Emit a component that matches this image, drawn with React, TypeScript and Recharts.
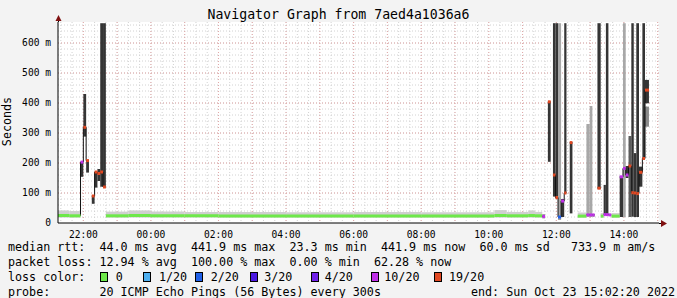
import React from 'react';
import { ComposedChart, Area, Line, XAxis, YAxis, CartesianGrid } from 'recharts';

const FONT = "'DejaVu Sans Mono', monospace";

// time axis in minutes relative to Oct 23 00:00
const startMin = -165;
const endMin = 902.33;
const xLabelMinutes = [-120, 0, 120, 240, 360, 480, 600, 720, 840];
const yTicks = [0, 100, 200, 300, 400, 500, 600];

const lossColors = ['#6ee84a', '#4fb0f0', '#2060e8', '#4a18e0', '#7020e8', '#c030e8', '#e04822'];
const lossLabels = ['0', '1/20', '2/20', '3/20', '4/20', '10/20', '19/20'];
const shades: Record<string, string> = { d: '#353535', m: '#5c5c5c', l: '#a8a8a8' };

// quiet periods: [start, end, smokeLo, smokeHi, median]
const baseline: [number, number, number, number, number][] = [
  [-165, -145, 18, 42, 25],
  [-145, -125, 18, 40, 24],
  [-80, -40, 18, 38, 24],
  [-40, 0, 18, 42, 25],
  [0, 60, 18, 38, 24],
  [60, 120, 18, 37, 24],
  [120, 240, 18, 37, 23],
  [240, 360, 18, 36, 23],
  [360, 480, 18, 37, 23],
  [480, 610, 18, 36, 23],
  [610, 632, 18, 43, 25],
  [632, 670, 18, 37, 24],
  [670, 682, 18, 42, 25],
  [682, 695, 18, 37, 24],
  [758, 773.4, 18, 35, 23],
  [798.8, 804, 18, 33, 23],
  [818, 832.5, 18, 33, 23],
];

// lossy periods: [start, duration, smokeLo, smokeHi, shade, median, lossIndex]
const leftBurst: [number, number, number, number, string, number, number][] = [
  [-125, 5, 154, 204, 'd', 203, 5],
  [-120, 5, 288, 430, 'd', 319, 6],
  [-115, 5, 168, 210, 'd', 208, 6],
  [-105, 5, 64, 91, 'd', 90, 6],
  [-100, 5, 118, 171, 'd', 170, 6],
  [-95, 5, 140, 180, 'd', 165, 6],
  [-90, 5, 121, 666, 'd', 170, 6],
  [-85, 5, 121, 666, 'd', 120, 6],
];

const rightBurst: [number, number, number, number, string, number, number][] = [
  [695, 5, 15, 30, 'l', 22, 5],
  [705, 5, 204, 404, 'd', 404, 6],
  [714, 4.5, 88, 666, 'd', 160, 6],
  [718.5, 4.5, 82, 666, 'd', 85, 6],
  [723, 5.5, 10, 666, 'l', 20, 2],
  [728.5, 5.5, 20, 80, 'd', 73, 5],
  [734, 4, 100, 666, 'd', 100, 6],
  [743.8, 4.8, 32, 268, 'd', 268, 6],
  [773.4, 5.9, 20, 330, 'l', 27, 5],
  [779.3, 4.7, 20, 390, 'l', 27, 5],
  [784, 4, 20, 30, 'l', 27, 5],
  [793, 5.8, 116, 666, 'd', 116, 6],
  [804, 4, 28, 127, 'd', 28, 5],
  [808, 4.5, 28, 666, 'd', 28, 5],
  [812.5, 5, 25, 30, 'l', 27, 5],
  [832.5, 5.9, 20, 154, 'd', 154, 5],
  [838.4, 4.8, 20, 666, 'l', 182, 5],
  [843.2, 5, 150, 190, 'd', 160, 5],
  [848.2, 5, 20, 290, 'm', 190, 6],
  [853.2, 4.3, 21, 666, 'd', 101, 6],
  [857.5, 4.5, 20, 233, 'd', 100, 6],
  [862, 4.8, 20, 666, 'd', 98, 6],
  [866.8, 6, 121, 188, 'd', 169, 6],
  [872.8, 4.7, 215, 666, 'd', 215, 6],
  [877.5, 7, 399, 477, 'd', 443, 6],
];

// extra pale smoke: [start, duration, lo, hi]
const paleSmoke: [number, number, number, number][] = [
  [877.5, 7, 321, 388],
];

const minorX: number[] = [];
for (let m = -160; m <= 900; m += 20) minorX.push(m);
const majorX: number[] = [];
for (let m = -120; m <= 900; m += 60) majorX.push(m);
const minorY: number[] = [];
for (let v = 20; v <= 660; v += 20) minorY.push(v);
const majorY = [100, 200, 300, 400, 500, 600];

const fmtTime = (m: number) => {
  const h = (((Math.round(m / 60)) % 24) + 24) % 24;
  return `${String(h).padStart(2, '0')}:00`;
};

function medianRuns(segs: typeof leftBurst, baseMed: number) {
  const rows: { t: number; v: number | null }[] = [];
  segs.forEach((s, i) => {
    const prev = segs[i - 1];
    const contiguous = prev && Math.abs(prev[0] + prev[1] - s[0]) < 0.6;
    if (!contiguous) {
      if (prev) {
        rows.push({ t: prev[0] + prev[1], v: prev[5] });
        rows.push({ t: prev[0] + prev[1] + 0.01, v: null });
      }
      rows.push({ t: s[0], v: i === 0 ? baseMed : s[5] });
    }
    rows.push({ t: s[0], v: s[5] });
  });
  const last = segs[segs.length - 1];
  rows.push({ t: last[0] + last[1], v: last[5] });
  return rows;
}

export default function App() {
  const bursts = [...leftBurst, ...rightBurst];
  const legendBoxes = [100, 142.5, 195.2, 250.4, 310.9, 370.5, 434];
  const legendTexts = [115.7, 158.9, 210.7, 264.2, 324.7, 384.3, 449];
  const txt: React.CSSProperties = {
    position: 'absolute', fontFamily: FONT, fontSize: 11.7, lineHeight: '15px',
    whiteSpace: 'pre', color: '#000',
  };
  return (
    <div style={{ position: 'absolute', left: 0, top: 0, width: 677, height: 298, background: '#f3f3f3', overflow: 'hidden' }}>
      <ComposedChart width={677} height={298} margin={{ top: 22, right: 18, bottom: 0, left: 0 }}>
        <CartesianGrid verticalValues={minorX} horizontalValues={minorY} stroke="#d2d2d2" strokeDasharray="1 2" fill="#ffffff" />
        <CartesianGrid verticalValues={majorX} horizontalValues={majorY} stroke="#e2a8a8" strokeDasharray="1 2" />
        <XAxis
          dataKey="t" type="number" domain={[startMin, endMin]} allowDataOverflow
          ticks={xLabelMinutes} tickFormatter={fmtTime} height={75}
          axisLine={{ stroke: '#000' }} tickLine={false} tickSize={0} tickMargin={8}
          tick={{ fontFamily: FONT, fontSize: 9.6, fill: '#000' }} interval={0}
        />
        <YAxis
          type="number" domain={[0, 670]} allowDataOverflow ticks={yTicks} width={58}
          tickFormatter={(v: number) => (v === 0 ? '0' : `${v} m`)}
          axisLine={{ stroke: '#000' }} tickLine={false} tickSize={0} tickMargin={7}
          tick={{ fontFamily: FONT, fontSize: 9.6, fill: '#000' }} interval={0}
        />
        {baseline.map((b, i) => (
          <Area key={`bs${i}`} data={[{ t: b[0], r: [b[2], b[3]] }, { t: b[1], r: [b[2], b[3]] }]}
            dataKey="r" type="linear" stroke="none" fill="#cfcfcf" fillOpacity={1}
            isAnimationActive={false} dot={false} activeDot={false} />
        ))}
        {bursts.map((s, i) => (
          <Area key={`sm${i}`} data={[{ t: s[0], r: [s[2], s[3]] }, { t: s[0] + s[1], r: [s[2], s[3]] }]}
            dataKey="r" type="linear" stroke="none" fill={shades[s[4]]} fillOpacity={1}
            isAnimationActive={false} dot={false} activeDot={false} />
        ))}
        {paleSmoke.map((s, i) => (
          <Area key={`ps${i}`} data={[{ t: s[0], r: [s[2], s[3]] }, { t: s[0] + s[1], r: [s[2], s[3]] }]}
            dataKey="r" type="linear" stroke="none" fill="#8a8a8a" fillOpacity={1}
            isAnimationActive={false} dot={false} activeDot={false} />
        ))}
        <Line data={medianRuns(leftBurst, 24)} dataKey="v" type="stepAfter" stroke="#111" strokeWidth={1}
          dot={false} activeDot={false} isAnimationActive={false} />
        <Line data={medianRuns(rightBurst, 24)} dataKey="v" type="stepAfter" stroke="#111" strokeWidth={1}
          dot={false} activeDot={false} isAnimationActive={false} />
        {baseline.map((b, i) => (
          <Line key={`bm${i}`} data={[{ t: b[0], v: b[4] }, { t: b[1], v: b[4] }]} dataKey="v" type="linear"
            stroke={lossColors[0]} strokeWidth={3} dot={false} activeDot={false} isAnimationActive={false} />
        ))}
        {bursts.map((s, i) => (
          <Line key={`md${i}`} data={[{ t: s[0], v: s[5] }, { t: s[0] + s[1], v: s[5] }]} dataKey="v" type="linear"
            stroke={lossColors[s[6]]} strokeWidth={3} dot={false} activeDot={false} isAnimationActive={false} />
        ))}
      </ComposedChart>
      <svg width={677} height={298} style={{ position: 'absolute', left: 0, top: 0, pointerEvents: 'none' }}>
        <line x1={58.5} y1={16} x2={58.5} y2={22} stroke="#000" />
        <polygon points="55.5,21 61.5,21 58.5,15" fill="#7f1010" />
        <line x1={659} y1={223.5} x2={662} y2={223.5} stroke="#000" />
        <polygon points="661,220 661,227 667,223.5" fill="#7f1010" />
      </svg>
      <div style={{ ...txt, fontSize: 13.2, lineHeight: '16px', top: 7, left: 0, width: 677, textAlign: 'center' }}>
        Navigator Graph from 7aed4a1036a6
      </div>
      <div style={{ ...txt, top: 114, left: -21.5, width: 56, textAlign: 'center', transform: 'rotate(-90deg)', transformOrigin: '50% 50%' }}>
        Seconds
      </div>
      <div style={{ ...txt, top: 239.5, left: 8 }}>
        {'median rtt:  44.0 ms avg  441.9 ms max  23.3 ms min  441.9 ms now  60.0 ms sd   733.9 m am/s'}
      </div>
      <div style={{ ...txt, top: 254.5, left: 8 }}>
        {'packet loss: 12.94 % avg  100.00 % max  0.00 % min  62.28 % now'}
      </div>
      <div style={{ ...txt, top: 269.5, left: 8 }}>{'loss color:'}</div>
      {lossLabels.map((l, i) => (
        <React.Fragment key={l}>
          <div style={{ position: 'absolute', left: legendBoxes[i], top: 272, width: 6, height: 8, background: lossColors[i], border: '1px solid #000' }} />
          <div style={{ ...txt, top: 269.5, left: legendTexts[i] }}>{l}</div>
        </React.Fragment>
      ))}
      <div style={{ ...txt, top: 284.5, left: 8 }}>
        {'probe:       20 ICMP Echo Pings (56 Bytes) every 300s'}
      </div>
      <div style={{ ...txt, top: 284.5, left: 471 }}>
        {'end: Sun Oct 23 15:02:20 2022'}
      </div>
    </div>
  );
}
